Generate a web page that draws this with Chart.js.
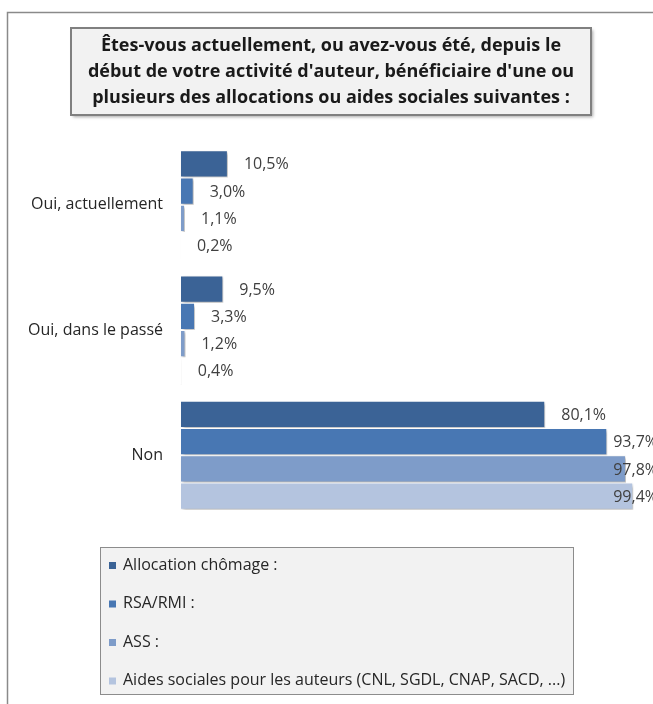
<!DOCTYPE html>
<html lang="fr">
<head>
<meta charset="UTF-8">
<title>Allocations ou aides sociales</title>
<script src="https://cdn.jsdelivr.net/npm/chart.js"></script>
<style>
  html, body { margin: 0; padding: 0; background: #fff; }
  #wrap { width: 653px; height: 704px; position: relative; }
</style>
</head>
<body>
<div id="wrap"><canvas id="chart"></canvas></div>
<script>
// chart data
const titleLines = [
  "Êtes-vous actuellement, ou avez-vous été, depuis le",
  "début de votre activité d'auteur, bénéficiaire d'une ou",
  "plusieurs des allocations ou aides sociales suivantes :"
];
const categories = ['Oui, actuellement', 'Oui, dans le passé', 'Non'];
const seriesNames = [
  'Allocation chômage :',
  'RSA/RMI :',
  'ASS :',
  'Aides sociales pour les auteurs (CNL, SGDL, CNAP, SACD, ...)'
];
const chomage = [10.5, 9.5, 80.1];
const rsaRmi = [3.0, 3.3, 93.7];
const ass = [1.1, 1.2, 97.8];
const aides = [0.2, 0.4, 99.4];
const colors = ['#3b6396', '#4877b3', '#7e9cc9', '#b4c4df'];

const FONT = '"Open Sans", Lato, sans-serif';
const TXT = 16;

function fmt(v) {
  return v.toFixed(1).replace('.', ',') + '%';
}

// frame, title box, bar shadows, value labels, legend
const decor = {
  id: 'decor',
  beforeDraw(chart) {
    const ctx = chart.ctx;
    ctx.save();
    // outer frame (cut off at right / bottom)
    ctx.strokeStyle = '#8a8a8a';
    ctx.lineWidth = 1.5;
    ctx.strokeRect(7.5, 12.5, chart.width + 20, chart.height + 20);

    // title box
    ctx.shadowColor = 'rgba(0,0,0,0.35)';
    ctx.shadowOffsetX = 2;
    ctx.shadowOffsetY = 2;
    ctx.shadowBlur = 3;
    ctx.fillStyle = '#f2f2f2';
    ctx.fillRect(71, 28, 520, 87);
    ctx.shadowColor = 'transparent';
    ctx.strokeStyle = '#808080';
    ctx.lineWidth = 2;
    ctx.strokeRect(71, 28, 520, 87);

    ctx.fillStyle = '#1a1a1a';
    ctx.font = 'bold 18px ' + FONT;
    ctx.textAlign = 'center';
    ctx.textBaseline = 'middle';
    titleLines.forEach((t, i) => ctx.fillText(t, 331, 46 + i * 26));
    ctx.restore();
  },
  beforeDatasetsDraw(chart) {
    const ctx = chart.ctx;
    ctx.save();
    ctx.shadowColor = 'rgba(0,0,0,0.3)';
    ctx.shadowOffsetX = 2;
    ctx.shadowOffsetY = 2;
    ctx.shadowBlur = 3;
  },
  afterDatasetsDraw(chart) {
    const ctx = chart.ctx;
    ctx.restore();

    ctx.save();
    ctx.font = TXT + 'px ' + FONT;
    ctx.fillStyle = '#404040';
    ctx.textAlign = 'left';
    ctx.textBaseline = 'middle';
    chart.data.datasets.forEach((ds, di) => {
      chart.getDatasetMeta(di).data.forEach((bar, i) => {
        const txt = fmt(ds.data[i]);
        const w = ctx.measureText(txt).width;
        let x = bar.x + 16;
        // labels are pushed back inside a plot frame slightly wider than the page
        if (x + w > chart.width + 5) x = chart.width + 5 - w;
        ctx.fillText(txt, x, bar.y + 1);
      });
    });
    ctx.restore();
  },
  afterDraw(chart) {
    const ctx = chart.ctx;
    ctx.save();
    ctx.fillStyle = '#f2f2f2';
    ctx.fillRect(100, 547, 474, 148);
    ctx.strokeStyle = '#8c8c8c';
    ctx.lineWidth = 1;
    ctx.strokeRect(100.5, 547.5, 473, 147);

    ctx.font = TXT + 'px ' + FONT;
    ctx.textAlign = 'left';
    ctx.textBaseline = 'middle';
    chart.data.datasets.forEach((ds, i) => {
      const y = 565 + i * 38.5;
      ctx.fillStyle = ds.backgroundColor;
      ctx.fillRect(109, y - 3, 7, 7);
      ctx.fillStyle = '#262626';
      ctx.fillText(ds.label, 123, y);
    });
    ctx.restore();
  }
};

new Chart(document.getElementById('chart'), {
  type: 'bar',
  data: {
    labels: categories,
    datasets: [
      { label: seriesNames[0], data: chomage, backgroundColor: colors[0] },
      { label: seriesNames[1], data: rsaRmi, backgroundColor: colors[1] },
      { label: seriesNames[2], data: ass, backgroundColor: colors[2] },
      { label: seriesNames[3], data: aides, backgroundColor: colors[3] }
    ].map(d => Object.assign(d, {
      borderColor: '#ffffff',
      borderWidth: 1,
      borderSkipped: false,
      categoryPercentage: 0.87,
      barPercentage: 1
    }))
  },
  options: {
    indexAxis: 'y',
    responsive: true,
    maintainAspectRatio: false,
    animation: false,
    layout: { padding: { left: 0, right: 17, top: 142, bottom: 186 } },
    plugins: {
      legend: { display: false },
      title: { display: false },
      tooltip: { enabled: false }
    },
    scales: {
      x: { display: false, min: 0, max: 100 },
      y: {
        afterFit(scale) { scale.width = 180; },
        grid: { display: false, drawTicks: false },
        border: { display: false },
        ticks: {
          padding: 17,
          color: '#262626',
          font: { family: FONT, size: TXT }
        }
      }
    }
  },
  plugins: [decor]
});
</script>
</body>
</html>
